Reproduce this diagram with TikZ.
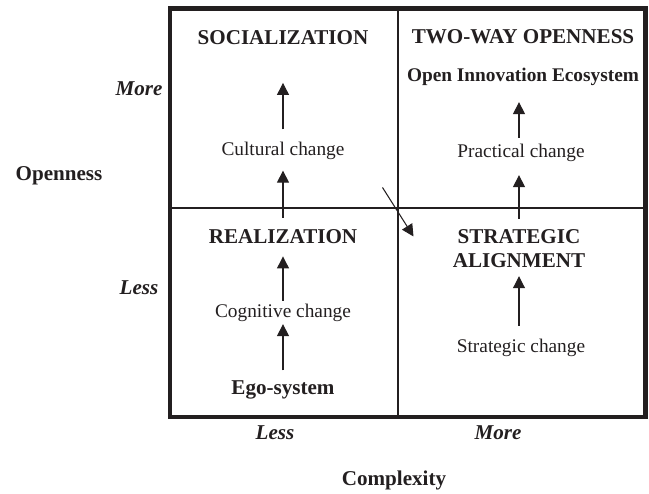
\documentclass[tikz,border=0pt]{standalone}
\usepackage{fontspec}
\setmainfont{Liberation Serif}
\usetikzlibrary{arrows.meta}
\definecolor{QInk}{HTML}{231F20}

\begin{document}
\begin{tikzpicture}[x=1cm,y=1cm,
  quadname/.style={font=\fontsize{12}{14}\selectfont\bfseries,text=QInk,inner sep=0pt,align=center},
  change/.style={font=\fontsize{11}{13}\selectfont,text=QInk,inner sep=0pt},
  axisname/.style={font=\fontsize{12}{14}\selectfont\bfseries,text=QInk,inner sep=0pt},
  level/.style={font=\fontsize{12}{14}\selectfont\bfseries\itshape,text=QInk,inner sep=0pt},
  stepup/.style={draw=QInk,line width=0.6pt,-{Triangle[width=6.8pt,length=6.8pt]}}]
\path[use as bounding box] (0,0) rectangle (12.98,9.88);
% quadrant grid
\draw[QInk,line width=0.6pt] (7.96,1.54) -- (7.96,9.71);
\draw[QInk,line width=0.6pt] (3.40,5.72) -- (12.91,5.72);
\draw[QInk,line width=2.5pt] (3.40,1.54) rectangle (12.91,9.71);
% left column
\node[quadname] (soc) at (5.66,9.13) {SOCIALIZATION};
\node[change] (cult) at (5.66,6.87) {Cultural change};
\node[quadname] (real) at (5.66,5.14) {REALIZATION};
\node[change] (cogn) at (5.66,3.62) {Cognitive change};
\node[quadname] (ego) at (5.66,2.08) {Ego-system};
% right column
\node[quadname] (twoway) at (10.46,9.14) {TWO-WAY OPENNESS};
\node[quadname,font=\fontsize{11}{13}\selectfont\bfseries] (oie) at (10.46,8.34) {Open Innovation Ecosystem};
\node[change] (prac) at (10.42,6.82) {Practical change};
\node[quadname] (strat) at (10.38,4.91) {STRATEGIC\\ALIGNMENT};
\node[change] (stch) at (10.42,2.92) {Strategic change};
% arrows
\draw[stepup,shorten <=0.20cm,shorten >=0.04cm] (ego.north) -- (cogn.south);
\draw[stepup,shorten <=0.06cm,shorten >=0.24cm] (cogn.north) -- (real.south);
\draw[stepup,shorten <=0.24cm,shorten >=0.22cm] (real.north) -- (cult.south);
\draw[stepup,shorten <=0.24cm,shorten >=0.76cm] (cult.north) -- (soc.south);
\draw[stepup,shorten <=0.26cm,shorten >=0.16cm] (stch.north -| strat) -- (strat.south);
\draw[stepup,shorten <=0.20cm,shorten >=0.26cm] (strat.north) -- (prac.south -| strat);
\draw[stepup,shorten <=0.12cm,shorten >=0.32cm] (prac.north -| strat) -- (oie.south -| strat);
\coordinate (crossA) at (7.65,6.13);
\coordinate (crossB) at (8.27,5.15);
\draw[stepup] (crossA) -- (crossB);
% axes
\node[level] (moreY) at (2.78,8.10) {More};
\node[level] (lessY) at (2.78,4.12) {Less};
\node[axisname] (openness) at (1.18,6.36) {Openness};
\node[level] (lessX) at (5.50,1.22) {Less};
\node[level] (moreX) at (9.96,1.22) {More};
\node[axisname] (complexity) at (7.88,0.28) {Complexity};
\end{tikzpicture}
\end{document}
